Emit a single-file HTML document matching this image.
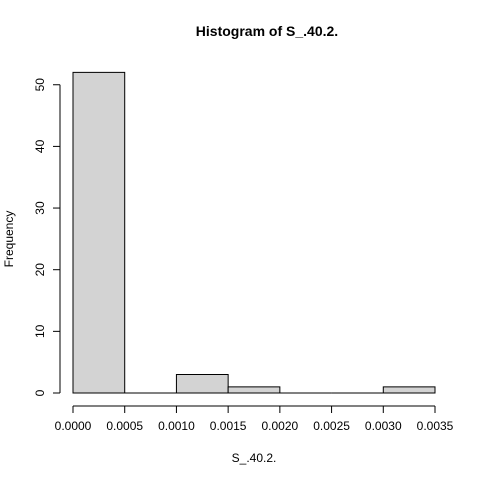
<!DOCTYPE html>
<html><head><meta charset="utf-8"><style>
body{margin:0;background:#fff}
svg{display:block;font-family:"Liberation Sans",Arial,sans-serif}
</style></head><body>
<svg id="chart" width="480" height="480">
<text x="267" y="36" text-anchor="middle" font-weight="bold" font-size="14">Histogram of S_.40.2.</text>
<text x="254" y="462" text-anchor="middle" font-size="12">S_.40.2.</text>
<text transform="translate(13,239) rotate(-90)" text-anchor="middle" font-size="12">Frequency</text>
<g id="bars"></g><g id="xaxis"></g><g id="yaxis"></g>
</svg>
<script>
const binEdges = [0, 0.0005, 0.001, 0.0015, 0.002, 0.0025, 0.003, 0.0035];
const counts = [52, 0, 3, 1, 0, 0, 1];
const xTicks = ["0.0000","0.0005","0.0010","0.0015","0.0020","0.0025","0.0030","0.0035"];
const yTicks = [0, 10, 20, 30, 40, 50];
const NS = "http://www.w3.org/2000/svg";
const xs = v => 73 + v / 0.0035 * 362;
const ys = v => 393 - v * 6.165;
function mk(tag, attrs, parent){const e=document.createElementNS(NS,tag);for(const k in attrs)e.setAttribute(k,attrs[k]);parent.appendChild(e);return e;}
const bars = document.getElementById('bars');
counts.forEach((c,i)=>{
  const x0=xs(binEdges[i]), x1=xs(binEdges[i+1]), y0=ys(0), y1=ys(c);
  const r=mk('path',{d:`M${x0},${y0}L${x0},${y1}L${x1},${y1}L${x1},${y0}Z`,fill:'#d3d3d3',stroke:'#000','stroke-width':1},bars);
  
  
});
const xa = document.getElementById('xaxis');
const xl = mk('line',{x1:xs(0),x2:xs(0.0035),y1:406,y2:406,stroke:'#000'},xa);


xTicks.forEach((t,i)=>{
  const x=xs(parseFloat(t));
  mk('line',{x1:x,x2:x,y1:406,y2:413,stroke:'#000'},xa);
  const tx=mk('text',{x:x,y:430,'text-anchor':'middle','font-size':12},xa);
  tx.textContent=t;
  
  
});
const ya = document.getElementById('yaxis');
const yl = mk('line',{x1:60,x2:60,y1:ys(0),y2:ys(50),stroke:'#000'},ya);


yTicks.forEach(t=>{
  const y=ys(t);
  mk('line',{x1:53,x2:60,y1:y,y2:y,stroke:'#000'},ya);
  const tx=mk('text',{transform:`translate(44,${y}) rotate(-90)`,'text-anchor':'middle','font-size':12},ya);
  tx.textContent=t;
  
  
});
</script>
</body></html>
